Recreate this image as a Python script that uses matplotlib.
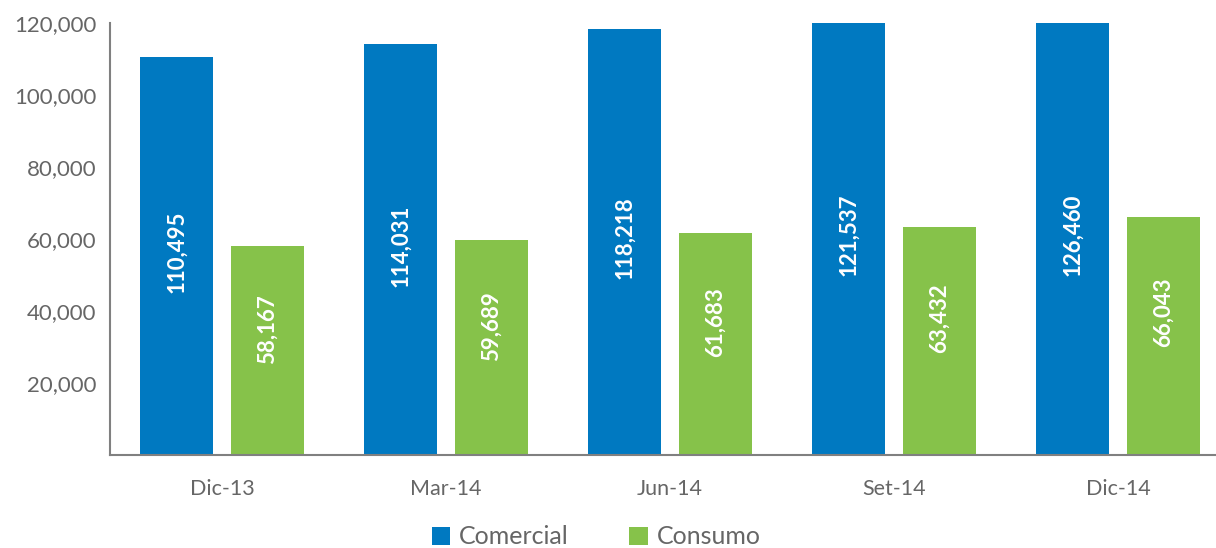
#!/usr/bin/env python3
# Colocaciones por tipo de crédito: Comercial vs Consumo

import matplotlib.pyplot as plt
import numpy as np

periods = ["Dic-13", "Mar-14", "Jun-14", "Set-14", "Dic-14"]
comercial = [110495, 114031, 118218, 121537, 126460]
consumo = [58167, 59689, 61683, 63432, 66043]

blue = "#0079C1"
green = "#86C24A"
grey = "#666666"

plt.rcParams["font.family"] = ["Lato", "DejaVu Sans"]

fig = plt.figure(figsize=(12.16, 5.48), dpi=100)
ax = fig.add_axes([110 / 1216, 93 / 548, 1106 / 1216, 432 / 548])

x = np.arange(len(periods))
w = 0.33
off = 0.203
ymax = 120000
ax.bar(x - off, comercial, w, color=blue, label="Comercial")
ax.bar(x + off, consumo, w, color=green, label="Consumo")

for xi, v in zip(x, comercial):
    ax.text(xi - off, min(v, ymax) * 0.51, f"{v:,}", rotation=90, color="white",
            fontsize=16, fontweight="bold", ha="center", va="center")
for xi, v in zip(x, consumo):
    ax.text(xi + off, v * 0.6, f"{v:,}", rotation=90, color="white",
            fontsize=16, fontweight="bold", ha="center", va="center")

ax.set_xlim(-0.5, -0.5 + 1106 / 224)
ax.set_ylim(0, ymax)
ax.set_yticks(range(20000, 120001, 20000))
ax.set_yticklabels([f"{t:,}" for t in range(20000, 120001, 20000)])
ax.set_xticks(x)
ax.set_xticklabels(periods)
ax.tick_params(axis="both", length=0, labelcolor=grey)
ax.tick_params(axis="y", labelsize=16, pad=10)
ax.tick_params(axis="x", labelsize=15.5, pad=17)

for s in ["top", "right"]:
    ax.spines[s].set_visible(False)
for s in ["left", "bottom"]:
    ax.spines[s].set_color("#808080")
    ax.spines[s].set_linewidth(1.5)

leg = ax.legend(loc="center", bbox_to_anchor=(596 / 1216, 11 / 548),
                bbox_transform=fig.transFigure, ncol=2, frameon=False,
                fontsize=18, handlelength=0.75, handleheight=0.75,
                handletextpad=0.35, columnspacing=2.4)
for t in leg.get_texts():
    t.set_color(grey)

fig.savefig("out.png", dpi=100)
